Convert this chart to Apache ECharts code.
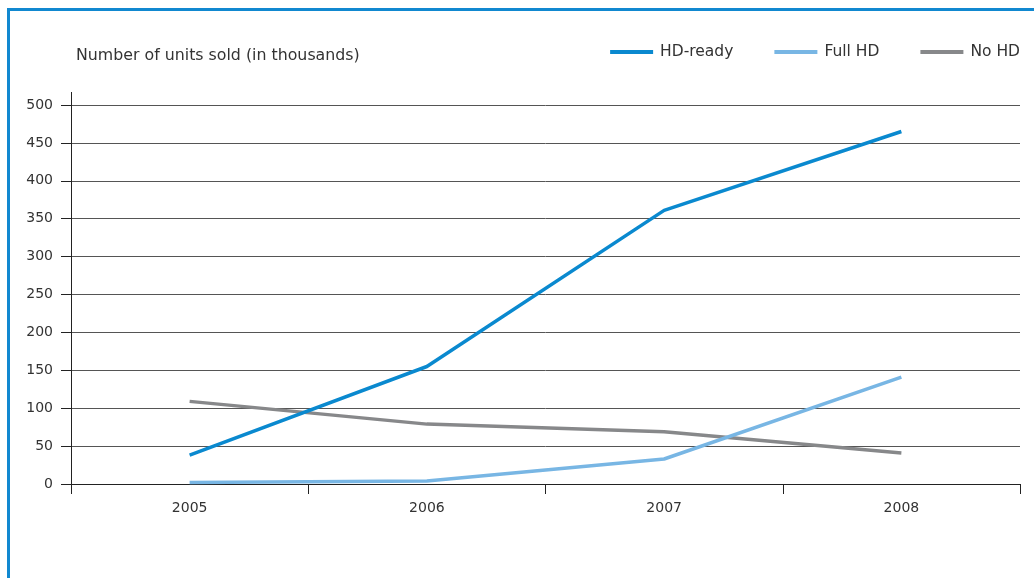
<!DOCTYPE html>
<html>
<head>
<meta charset="utf-8">
<script src="https://cdn.jsdelivr.net/npm/echarts@6/dist/echarts.min.js"></script>
<style>
  html, body { margin: 0; padding: 0; background: #fff; }
  #chart { width: 1034px; height: 578px; }
</style>
</head>
<body>
<div id="chart"></div>
<script>
// Sales of flat-screen TVs by type, thousands of units
const years = ['2005', '2006', '2007', '2008'];
const hdReady = [38, 155, 361, 465];
const fullHd = [2, 4, 33, 141];
const noHd = [109, 79, 69, 41];
const yTicks = { min: 0, max: 500, interval: 50 };

const FONT = 'DejaVu Sans, Verdana, sans-serif';
const chart = echarts.init(document.getElementById('chart'));

const lineStyle = (color) => ({ width: 3.5, color: color, cap: 'butt' });

chart.setOption({
  animation: false,
  textStyle: { fontFamily: FONT },
  grid: { left: 71, right: 14, top: 105, bottom: 94 },
  title: {
    text: 'Number of units sold (in thousands)',
    left: 71, top: 43,
    textStyle: { fontSize: 15.8, fontWeight: 'normal', color: '#333', fontFamily: FONT }
  },
  legend: {
    right: 9, top: 39,
    itemWidth: 43, itemHeight: 4, itemGap: 41,
    icon: 'rect',
    textStyle: { fontSize: 15.5, color: '#333', fontFamily: FONT, padding: [0, 0, 0, 2] },
    data: ['HD-ready', 'Full HD', 'No HD']
  },
  xAxis: {
    type: 'category',
    data: years,
    boundaryGap: true,
    axisLine: { lineStyle: { color: '#222', width: 1 } },
    axisTick: { show: true, length: 10, alignWithLabel: false, lineStyle: { color: '#222' } },
    axisLabel: { fontSize: 14, color: '#333', margin: 17, fontFamily: FONT },
    splitLine: { show: false }
  },
  yAxis: {
    type: 'value',
    min: yTicks.min, max: yTicks.max, interval: yTicks.interval,
    axisLine: { show: true, lineStyle: { color: '#222', width: 1 } },
    axisTick: { show: true, length: 10, lineStyle: { color: '#222' } },
    axisLabel: { fontSize: 14, color: '#333', margin: 18, fontFamily: FONT },
    splitLine: { show: true, lineStyle: { color: '#555', width: 1 } }
  },
  series: [
    { name: 'HD-ready', type: 'line', data: hdReady, showSymbol: false, symbol: 'none',
      color: '#0a89cf', lineStyle: lineStyle('#0a89cf'), z: 4 },
    { name: 'Full HD', type: 'line', data: fullHd, showSymbol: false, symbol: 'none',
      color: '#78b6e4', lineStyle: lineStyle('#78b6e4'), z: 3 },
    { name: 'No HD', type: 'line', data: noHd, showSymbol: false, symbol: 'none',
      color: '#87888a', lineStyle: lineStyle('#87888a'), z: 2 }
  ]
});

// Frame along the top and left edges, and the vertical axis running a bit past its top value
const yTopPx = chart.convertToPixel({ yAxisIndex: 0 }, yTicks.max);
const yZeroPx = chart.convertToPixel({ yAxisIndex: 0 }, yTicks.min);
const axisX = 71.5;
chart.setOption({
  graphic: [
    { type: 'polyline', shape: { points: [[8.5, 600], [8.5, 9.5], [1040, 9.5]] },
      style: { stroke: '#1188d0', lineWidth: 3, fill: null }, silent: true },
    { type: 'line', shape: { x1: axisX, y1: yTopPx - 13, x2: axisX, y2: yZeroPx + 9 },
      style: { stroke: '#222', lineWidth: 1 }, silent: true, z: 10 }
  ]
});
</script>
</body>
</html>
